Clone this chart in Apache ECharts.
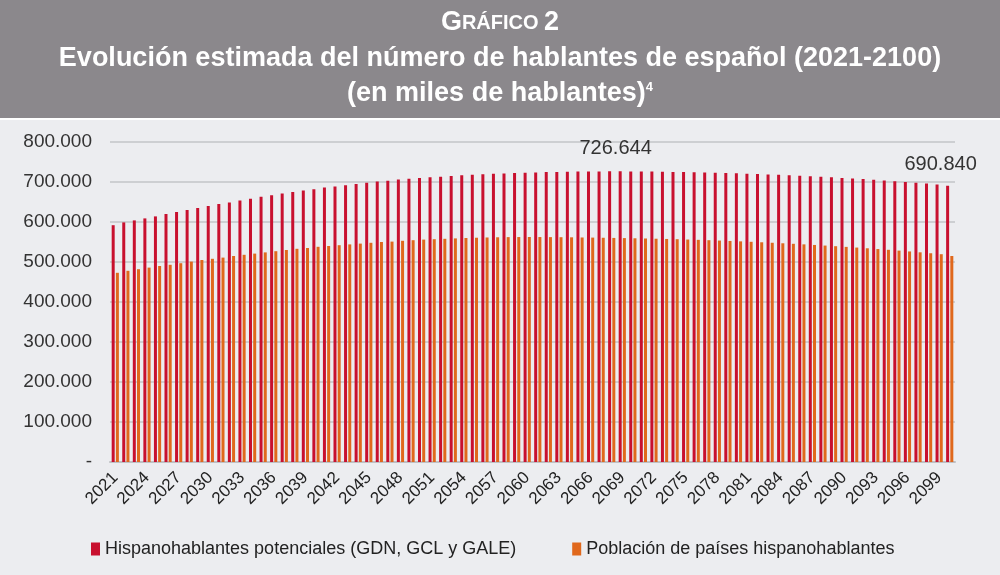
<!DOCTYPE html>
<html><head><meta charset="utf-8">
<script src="https://cdn.jsdelivr.net/npm/echarts@6/dist/echarts.min.js"></script>
<style>html,body{margin:0;padding:0;background:#ecedf0}#c{width:1000px;height:575px}</style>
</head><body><div id="c"></div>
<script>
const years = [];
for (let y = 2021; y <= 2100; y++) years.push(String(y));

const potenciales = [
592000,599000,604000,609000,614000,620000,625000,630000,635000,640000,
645000,649000,654000,658000,663000,667000,671000,675000,679000,682000,
686000,689000,692000,695000,698000,701000,703000,706000,708000,710000,
712000,713000,715000,717000,718000,719500,720500,721500,722500,723300,
724000,724700,725200,725700,726000,726300,726500,726644,726600,726500,
726300,726000,725700,725300,724900,724400,723800,723200,722500,721700,
720900,720000,719000,718000,717000,715800,714500,713200,711800,710300,
708800,707200,705500,703800,702000,700100,698200,696200,693500,690840
];
const poblacion = [
473000,478000,482000,486000,490000,493000,497000,501000,505000,508000,
511000,515000,518000,521000,524000,527000,530000,533000,535000,538000,
540000,542000,544000,546000,548000,550000,551000,553000,554500,556000,
557000,558000,559000,560000,560700,561300,561800,562200,562400,562500,
562400,562200,562000,561700,561300,561000,560600,560200,559800,559300,
558800,558200,557600,557000,556200,555400,554500,553600,552600,551600,
550500,549300,548100,546800,545500,544100,542600,541100,539500,537800,
536100,534300,532400,530500,528500,526400,524200,521900,519500,515000
];
const seriesNames = ['Hispanohablantes potenciales (GDN, GCL y GALE)', 'Población de países hispanohablantes'];
const titleLines = ['Evolución estimada del número de hablantes de español (2021-2100)', '(en miles de hablantes)'];

function fmt(v) {
  if (v === 0) return '-';
  return String(Math.round(v)).replace(/\B(?=(\d{3})+(?!\d))/g, '.');
}

const maxIdx = potenciales.indexOf(Math.max(...potenciales));
const lastIdx = potenciales.length - 1;
const redData = potenciales.map((v, i) => {
  if (i === maxIdx) return {value: v, label: {show: true, position: 'top', distance: 13, offset: [6, 0]}};
  if (i === lastIdx) return {value: v, label: {show: true, position: 'top', distance: 11, offset: [-7, 0]}};
  return v;
});

const chart = echarts.init(document.getElementById('c'), null, {renderer: 'canvas'});
chart.setOption({
  backgroundColor: '#ecedf0',
  animation: false,
  graphic: [
    {type: 'rect', shape: {x: 0, y: 0, width: 1000, height: 118}, style: {fill: '#8b888c'}, z: 0},
    {type: 'rect', shape: {x: 0, y: 118, width: 1000, height: 2}, style: {fill: '#ffffff'}, z: 0},
    {type: 'text', x: 500, y: 23, style: {text: '{a|G}{b|RÁFICO }{a|2}', textAlign: 'center', textVerticalAlign: 'middle',
      rich: {a: {fontSize: 27, fill: '#fff', fontFamily: 'Liberation Sans', fontWeight: 'bold'}, b: {fontSize: 20, fill: '#fff', fontFamily: 'Liberation Sans', fontWeight: 'bold'}}}},
    {type: 'text', x: 500, y: 59, style: {text: titleLines[0], textAlign: 'center', textVerticalAlign: 'middle', fontSize: 27, fontWeight: 'bold', fontFamily: 'Liberation Sans', fill: '#fff'}},
    {type: 'text', x: 500, y: 94, style: {text: '{m|' + titleLines[1] + '}{s|4}', textAlign: 'center', textVerticalAlign: 'middle',
      rich: {m: {fontSize: 27, fontWeight: 'bold', fontFamily: 'Liberation Sans', fill: '#fff'}, s: {fontSize: 13, fontWeight: 'bold', fontFamily: 'Liberation Sans', fill: '#fff', verticalAlign: 'top', padding: [0, 0, 14, 0]}}}}
  ],
  grid: {left: 110, right: 45, top: 142, bottom: 113, containLabel: false},
  legend: {
    bottom: 12, left: 86, itemWidth: 9, itemHeight: 13, itemGap: 56, icon: 'rect',
    textStyle: {fontSize: 18, color: '#222', fontFamily: 'Liberation Sans', padding: [0, 0, 0, 0]},
    data: seriesNames
  },
  xAxis: {
    type: 'category', data: years,
    axisLine: {lineStyle: {color: '#bfc0c4', width: 2}},
    axisTick: {show: false},
    axisLabel: {interval: 2, rotate: 45, fontSize: 17, color: '#222', fontFamily: 'Liberation Sans', margin: 13}
  },
  yAxis: {
    type: 'value', min: 0, max: 800000, interval: 100000,
    axisLine: {show: false}, axisTick: {show: false},
    splitLine: {lineStyle: {color: '#c3c4c8', width: 1.5}},
    axisLabel: {formatter: fmt, fontSize: 19, color: '#333', fontFamily: 'Liberation Sans', margin: 18}
  },
  series: [
    {name: seriesNames[0], type: 'bar', data: redData, barWidth: 3, barGap: '40%',
      itemStyle: {color: '#c8102e'},
      label: {show: false, formatter: p => fmt(p.value), fontSize: 20, color: '#333', fontFamily: 'Liberation Sans'}},
    {name: seriesNames[1], type: 'bar', data: poblacion, barWidth: 3, barGap: '40%',
      itemStyle: {color: '#e0681c'}}
  ]
});
</script></body></html>
